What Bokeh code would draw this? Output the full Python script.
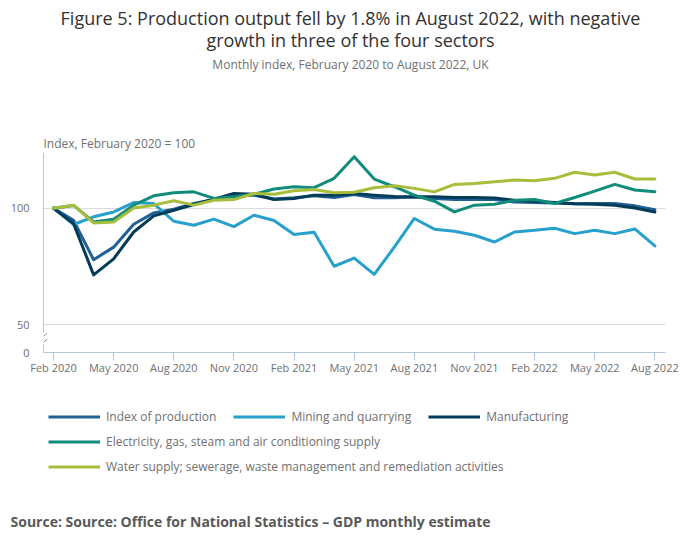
from bokeh.plotting import figure
from bokeh.models import Range1d, FixedTicker, Legend, LegendItem, Arrow, Label
from bokeh.layouts import column
from bokeh.embed import file_html
from bokeh.resources import INLINE

# ---- data ----
months = list(range(31))  # Feb 2020 .. Aug 2022
tick_positions = [0, 3, 6, 9, 12, 15, 18, 21, 24, 27, 30]
tick_labels = ["Feb 2020", "May 2020", "Aug 2020", "Nov 2020", "Feb 2021", "May 2021",
               "Aug 2021", "Nov 2021", "Feb 2022", "May 2022", "Aug 2022"]

index_of_production = [100, 94.8, 77.9, 83.3, 93.1, 98.0, 99.6, 102.0, 103.7, 105.3, 105.6,
                       103.9, 104.5, 105.3, 104.6, 105.9, 104.5, 104.5, 104.8, 104.2, 103.7,
                       103.7, 103.7, 102.7, 102.4, 102.2, 101.9, 102.0, 102.0, 101.0, 99.3]
mining = [100, 93.0, 96.3, 98.4, 102.4, 102.0, 94.4, 92.7, 95.3, 92.1, 97.0, 94.7, 88.7,
          89.7, 75.1, 78.6, 71.6, 83.3, 95.6, 91.0, 90.1, 88.4, 85.5, 89.8, 90.5, 91.4,
          89.1, 90.5, 89.1, 91.1, 83.8]
manufacturing = [100, 93.4, 71.4, 78.3, 89.8, 96.7, 99.1, 101.6, 103.9, 106.3, 106.0, 103.7,
                 104.2, 105.6, 105.6, 106.3, 105.6, 105.0, 104.9, 104.9, 104.6, 104.6, 104.4,
                 103.4, 103.0, 102.4, 101.9, 101.7, 101.3, 100.1, 98.4]
electricity = [100, 101.2, 94.1, 95.3, 101.3, 105.3, 106.6, 107.0, 104.2, 104.9, 106.0, 108.2,
               109.2, 108.8, 112.8, 122.1, 112.5, 109.2, 105.6, 103.0, 98.4, 101.3, 101.7,
               103.4, 103.7, 102.0, 104.6, 107.3, 110.2, 107.8, 107.0]
water = [100, 101.3, 93.7, 94.1, 100.1, 101.3, 103.2, 101.3, 103.4, 103.7, 106.3, 106.0,
         107.5, 108.0, 106.6, 106.8, 108.8, 109.6, 108.5, 107.0, 110.2, 110.6, 111.3, 112.1,
         111.8, 112.8, 115.4, 114.2, 115.4, 112.5, 112.5]

series_names = ["Index of production", "Mining and quarrying", "Manufacturing",
                "Electricity, gas, steam and air conditioning supply",
                "Water supply; sewerage, waste management and remediation activities"]
series_values = [index_of_production, mining, manufacturing, electricity, water]
series_colors = ["#206095", "#27a0cc", "#003c57", "#118c7b", "#a8bd3a"]

title_lines = ["Figure 5: Production output fell by 1.8% in August 2022, with negative",
               "growth in three of the four sectors"]
subtitle = "Monthly index, February 2020 to August 2022, UK"
y_title = "Index, February 2020 = 100"
source = "Source: Source: Office for National Statistics \u2013 GDP monthly estimate"

y_ticks = [50, 100]
y_zero_pos = 38.12  # position of the broken-axis "0"

FONT = "Open Sans"
GREY = "#707071"
W = 700
TOP_H, MAIN_H, BOT_H = 152, 238, 159


def text_panel(height):
    f = figure(width=W, height=height, output_backend="svg", toolbar_location=None,
               x_range=Range1d(0, W), y_range=Range1d(height, 0),
               x_axis_type=None, y_axis_type=None, min_border=0)
    f.frame_align = False
    f.title = None
    f.outline_line_color = None
    f.xgrid.visible = False
    f.ygrid.visible = False
    f.background_fill_color = "white"
    f.border_fill_color = "white"
    return f


def lab(f, text, x, y, size, color, align="left", style="normal"):
    f.add_layout(Label(x=x, y=y, text=text, text_font=FONT, text_font_size=size,
                       text_color=color, text_align=align, text_baseline="middle",
                       text_font_style=style))


# ---- top: titles ----
top = text_panel(TOP_H)
lab(top, title_lines[0], 350, 17, "18px", "#323132", "center")
lab(top, title_lines[1], 350, 39, "18px", "#323132", "center")
lab(top, subtitle, 350, 64, "12px", GREY, "center")
lab(top, y_title, 43, 143, "12px", GREY)

# ---- main chart ----
p = figure(width=W, height=MAIN_H, output_backend="svg", toolbar_location=None,
           x_range=Range1d(-0.5, 30.53), y_range=Range1d(y_zero_pos, 123.88),
           min_border_left=43, min_border_right=35, min_border_top=0, min_border_bottom=38)
p.frame_align = False
p.title = None
p.outline_line_color = None
p.background_fill_color = "white"
p.border_fill_color = "white"

for vals, col in zip(series_values, series_colors):
    p.line(months, vals, line_color=col, line_width=3, line_join="round", line_cap="round")

xa = p.xaxis[0]
xa.ticker = FixedTicker(ticks=tick_positions)
xa.major_label_overrides = {t: l for t, l in zip(tick_positions, tick_labels)}
xa.axis_line_color = "#b3c4e0"
xa.major_tick_line_color = "#b3c4e0"
xa.major_tick_in = 0
xa.major_tick_out = 8
xa.minor_tick_line_color = None
xa.major_label_standoff = -1
xa.major_label_text_font = FONT
xa.major_label_text_font_size = "11px"
xa.major_label_text_color = GREY

ya = p.yaxis[0]
ya.ticker = FixedTicker(ticks=[y_zero_pos] + y_ticks)
ya.major_label_overrides = {y_zero_pos: "0"}
ya.axis_line_color = None
ya.major_tick_line_color = None
ya.minor_tick_line_color = None
ya.major_tick_in = 0
ya.major_tick_out = 0
ya.major_label_standoff = 14
ya.major_label_text_font = FONT
ya.major_label_text_font_size = "11px"
ya.major_label_text_color = GREY

p.xgrid.grid_line_color = None
p.ygrid.ticker = FixedTicker(ticks=y_ticks)
p.ygrid.grid_line_color = "#dcdcdc"
p.ygrid.grid_line_width = 1

AX = "#8c8c8c"
for xs, ys, xe, ye in [(-0.5, 46.7, -0.5, 123.88), (-0.5, y_zero_pos, -0.5, 41.6),
                       (-0.76, 43.2, -0.32, 46.4), (-0.76, 40.6, -0.32, 43.8)]:
    p.add_layout(Arrow(end=None, x_start=xs, y_start=ys, x_end=xe, y_end=ye,
                       line_color=AX, line_width=1))

# ---- bottom: legend + source ----
bot = text_panel(BOT_H)
nan = float("nan")
swatches = [bot.line([nan], [nan], line_color=c, line_width=3) for c in series_colors]


def make_legend(idx, orientation, loc):
    items = [LegendItem(label=series_names[i], renderers=[swatches[i]]) for i in idx]
    lg = Legend(items=items, location=loc, orientation=orientation,
                glyph_width=52, glyph_height=25, label_height=25, label_standoff=6,
                spacing=17 if orientation == "horizontal" else 0,
                padding=0, margin=0, border_line_color=None,
                background_fill_alpha=0, label_text_font=FONT,
                label_text_font_size="12px", label_text_color=GREY)
    bot.add_layout(lg, "center")


make_legend([0, 1, 2], "horizontal", (48, 120.5))
make_legend([3, 4], "vertical", (48, 70.5))
lab(bot, source, 10, 131, "14px", "#595959", "left", "bold")

layout = column(top, p, bot, spacing=0)
open("out.html", "w").write(file_html(layout, INLINE))
